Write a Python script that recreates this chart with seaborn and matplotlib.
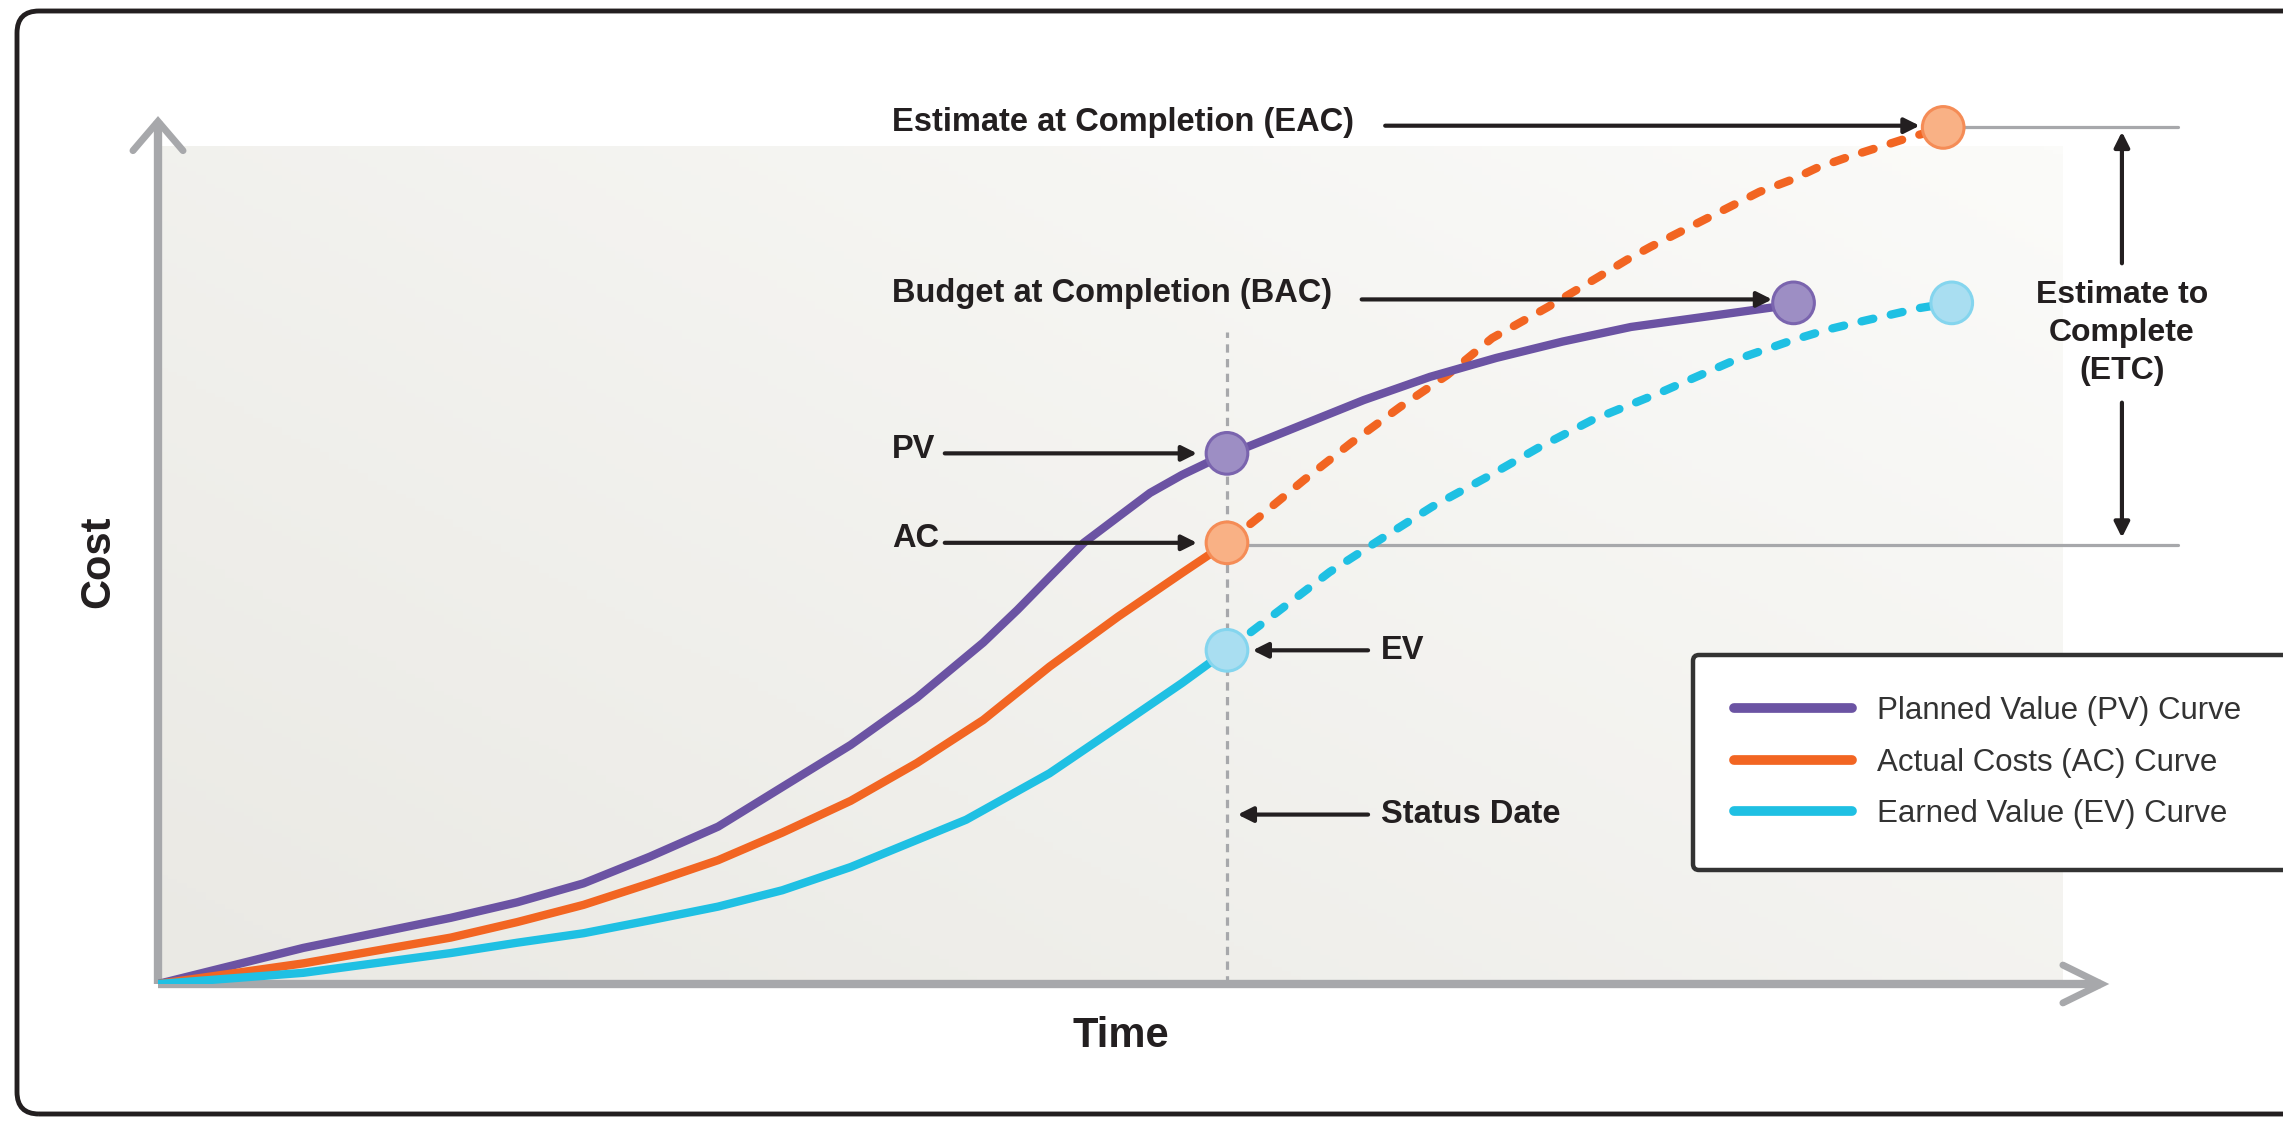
# -*- coding: utf-8 -*-
"""Earned value chart: PV / AC / EV curves, status date and completion estimates."""

import numpy as np
import pandas as pd
import matplotlib
matplotlib.use("Agg")
import matplotlib.pyplot as plt
from matplotlib.patches import FancyBboxPatch
from matplotlib.transforms import IdentityTransform
from matplotlib.colors import LinearSegmentedColormap
import seaborn as sns

## data (time and cost in arbitrary units)
pv_label = 'Planned Value (PV) Curve'
ac_label = 'Actual Costs (AC) Curve'
ev_label = 'Earned Value (EV) Curve'

status_date = 50
status_top = 75.8

pv_time = [0, 6.8, 13.7, 16.8, 19.9, 23.0, 26.2, 29.2, 32.4, 35.5, 38.6, 40.2, 41.7, 43.3,
           44.9, 46.4, 47.9, 50, 50.9, 53.3, 56.4, 59.5, 62.6, 65.7, 68.9, 75.6, 76.5]
pv_cost = [0, 4.2, 7.7, 9.5, 11.7, 14.8, 18.3, 22.9, 27.8, 33.3, 39.7, 43.5, 47.3, 51.3,
           54.3, 57.1, 59.2, 61.7, 62.4, 64.8, 67.9, 70.6, 72.8, 74.7, 76.4, 78.7, 79.2]

ac_time = [0, 6.8, 13.7, 16.8, 19.9, 23.0, 26.2, 29.2, 32.4, 35.5, 38.6, 41.7, 44.9, 47.9, 50]
ac_cost = [0, 2.4, 5.4, 7.2, 9.2, 11.7, 14.4, 17.6, 21.3, 25.7, 30.7, 36.9, 42.7, 47.8, 51.3]
ac_fc_time = [50, 51.5, 53.6, 55.8, 58.1, 60.3, 62.4, 65.0, 67.5, 68.7, 69.8, 74.9, 76.4,
              77.6, 79.1, 80.5, 82.0, 83.5]
ac_fc_cost = [51.3, 54.3, 58.6, 62.9, 67.1, 70.8, 75.1, 78.7, 82.4, 84.2, 85.7, 92.1, 93.5,
              94.9, 96.2, 97.3, 98.5, 99.5]

ev_time = [0, 6.8, 13.7, 16.8, 19.9, 23.0, 26.2, 29.2, 32.4, 37.8, 41.7, 44.9, 47.9, 50]
ev_cost = [0, 1.3, 3.6, 4.8, 5.9, 7.4, 9.0, 10.9, 13.6, 19.1, 24.5, 29.9, 35.0, 38.8]
ev_fc_time = [50, 53.7, 54.8, 57.3, 59.6, 62.2, 64.6, 67.1, 70.2, 73.8, 75.1, 76.5, 78.1,
              79.6, 81.0, 82.4, 83.9]
ev_fc_cost = [38.8, 45.8, 47.9, 51.9, 55.5, 59.0, 62.4, 65.6, 68.7, 72.6, 73.7, 74.9, 76.1,
              77.0, 77.8, 78.6, 79.2]

# key points: PV, AC, EV at status date, BAC, EAC, EV at completion
point_time = [50, 50, 50, 76.5, 83.5, 83.9]
point_cost = [61.7, 51.3, 38.8, 79.2, 99.6, 79.2]
point_series = [pv_label, ac_label, ev_label, pv_label, ac_label, ev_label]

## colours
line_colors = {pv_label: '#6b53a3', ac_label: '#f26522', ev_label: '#1fc0e3'}
face_colors = {pv_label: '#9d8ec4', ac_label: '#f9b185', ev_label: '#a9def1'}
edge_colors = {pv_label: '#7a64ae', ac_label: '#f58c56', ev_label: '#84d5ee'}
axis_gray = '#a7a8ab'
ink = '#231f20'

## fonts
sns.set_style('white')
plt.rcParams['font.family'] = ['Liberation Sans', 'DejaVu Sans']

W, H = 2283, 1121
fig = plt.figure(figsize=(W / 100, H / 100), dpi=100)

# axes placed so that the origin sits where the reference has it
x_max, y_max = 90.9, 100.3
ax = fig.add_axes([158 / W, (H - 984) / H, 1943.4 / W, 862.6 / H])

# background panel with a soft diagonal gradient
gx, gy = np.meshgrid(np.linspace(0, 1, 200), np.linspace(0, 1, 200))
bg_cmap = LinearSegmentedColormap.from_list('bg', ['#eae9e4', '#fbfbf9'])
ax.imshow(0.55 * gx + 0.45 * gy, extent=[0, 89.1, 0, 97.4], origin='lower',
          cmap=bg_cmap, aspect='auto', zorder=0)

# build the tables for seaborn
solid = pd.concat([
    pd.DataFrame({'series': pv_label, 'time': pv_time, 'cost': pv_cost}),
    pd.DataFrame({'series': ac_label, 'time': ac_time, 'cost': ac_cost}),
    pd.DataFrame({'series': ev_label, 'time': ev_time, 'cost': ev_cost}),
], ignore_index=True)
forecast = pd.concat([
    pd.DataFrame({'series': ac_label, 'time': ac_fc_time, 'cost': ac_fc_cost}),
    pd.DataFrame({'series': ev_label, 'time': ev_fc_time, 'cost': ev_fc_cost}),
], ignore_index=True)
points = pd.DataFrame({'series': point_series, 'time': point_time, 'cost': point_cost})

hue_order = [pv_label, ac_label, ev_label]

# dashed forecasts first so the PV curve sits on top of them
sns.lineplot(data=forecast, x='time', y='cost', hue='series', palette=line_colors,
             estimator=None, sort=False, lw=6, legend=False, ax=ax, zorder=2,
             linestyle=(0, (1.45, 2.15)), dash_capstyle='round')
sns.lineplot(data=solid, x='time', y='cost', hue='series', hue_order=hue_order,
             palette=line_colors, estimator=None, sort=False, lw=6, ax=ax, zorder=3,
             solid_capstyle='round', solid_joinstyle='round')

old_leg = ax.get_legend()
handles = list(old_leg.legend_handles)
labels = [t.get_text() for t in old_leg.get_texts()]
old_leg.remove()

# status date line
ax.plot([status_date, status_date], [0, status_top], color=axis_gray, lw=2.3,
        linestyle=(0, (2.6, 2.0)), zorder=1)

# grey reference lines at EAC and AC
ax.plot([83.5, 94.5], [99.6, 99.6], color=axis_gray, lw=2.3, zorder=1, clip_on=False)
ax.plot([50, 94.5], [51.1, 51.1], color=axis_gray, lw=2.3, zorder=1, clip_on=False)

# markers
sns.scatterplot(data=points, x='time', y='cost', hue='series', palette=face_colors,
                s=900, linewidth=2.2, legend=False, ax=ax, zorder=5, clip_on=False)
ax.collections[-1].set_edgecolor([edge_colors[s] for s in point_series])

# axis arrows
ax.set_xlim(0, x_max)
ax.set_ylim(0, y_max)
for side in ['top', 'right']:
    ax.spines[side].set_visible(False)
for side in ['left', 'bottom']:
    ax.spines[side].set_color(axis_gray)
    ax.spines[side].set_linewidth(6)
    ax.spines[side].set_capstyle('butt')
ax.set_xticks([])
ax.set_yticks([])
ax.plot([-1.17, 0, 1.17], [96.9, y_max, 96.9], color=axis_gray, lw=5,
        solid_joinstyle='miter', clip_on=False, zorder=4)
ax.plot([89.1, x_max, 89.1], [2.2, 0, -2.2], color=axis_gray, lw=5,
        solid_joinstyle='miter', clip_on=False, zorder=4)

ax.set_xlabel('Time', fontsize=30, fontweight='bold', color=ink)
ax.set_ylabel('Cost', fontsize=30, fontweight='bold', color=ink)
ax.xaxis.set_label_coords(0.4956, -0.037)
ax.yaxis.set_label_coords(-0.0205, 0.49)

## annotations
lab_kw = dict(fontsize=23.5, fontweight='bold', color=ink, va='center', ha='left')
arr_kw = dict(arrowstyle='-|>,head_length=0.7,head_width=0.35', lw=3, color=ink,
              shrinkA=0, shrinkB=0, mutation_scale=13)

ax.text(34.33, 100.2, 'Estimate at Completion (EAC)', **lab_kw)
ax.annotate('', xy=(82.4, 99.8), xytext=(57.4, 99.8), arrowprops=arr_kw,
            annotation_clip=False)
ax.text(34.33, 80.3, 'Budget at Completion (BAC)', **lab_kw)
ax.annotate('', xy=(75.5, 79.6), xytext=(56.3, 79.6), arrowprops=arr_kw)
ax.text(34.33, 62.1, 'PV', **lab_kw)
ax.annotate('', xy=(48.6, 61.7), xytext=(36.8, 61.7), arrowprops=arr_kw)
ax.text(34.33, 51.8, 'AC', **lab_kw)
ax.annotate('', xy=(48.6, 51.3), xytext=(36.8, 51.3), arrowprops=arr_kw)
ax.text(57.2, 38.8, 'EV', **lab_kw)
ax.annotate('', xy=(51.2, 38.8), xytext=(56.6, 38.8), arrowprops=arr_kw)
ax.text(57.2, 19.7, 'Status Date', **lab_kw)
ax.annotate('', xy=(50.5, 19.7), xytext=(56.6, 19.7), arrowprops=arr_kw)

# estimate to complete
ax.text(91.86, 75.7, 'Estimate to\nComplete\n(ETC)', fontsize=23, fontweight='bold',
        color=ink, ha='center', va='center', linespacing=1.35, clip_on=False)
ax.annotate('', xy=(91.86, 99.1), xytext=(91.86, 83.8), arrowprops=arr_kw,
            annotation_clip=False)
ax.annotate('', xy=(91.86, 51.9), xytext=(91.86, 67.6), arrowprops=arr_kw,
            annotation_clip=False)

## legend in a rounded box running off the right edge
for h in handles:
    h.set_linewidth(7)
leg = ax.legend(handles, labels, loc='upper left', mode='expand',
                bbox_to_anchor=(1693 / W, 0.0, 0.35, 1 - 655 / H),
                bbox_transform=fig.transFigure, borderaxespad=0, borderpad=1.3,
                handlelength=3.8, handletextpad=0.8, labelspacing=0.7,
                fancybox=True, framealpha=1, prop={'size': 22.5})
frame = leg.get_frame()
frame.set_edgecolor('#333333')
frame.set_linewidth(3.2)
frame.set_facecolor('white')
leg.set_zorder(8)
for t in leg.get_texts():
    t.set_color('#333333')

## outer rounded frame
fig.add_artist(FancyBboxPatch((17, 7), 2400, 1103, boxstyle='round,pad=0,rounding_size=22',
                              transform=IdentityTransform(), fill=False,
                              ec=ink, lw=3.5))

fig.savefig('out.png', dpi=100, facecolor='white')
